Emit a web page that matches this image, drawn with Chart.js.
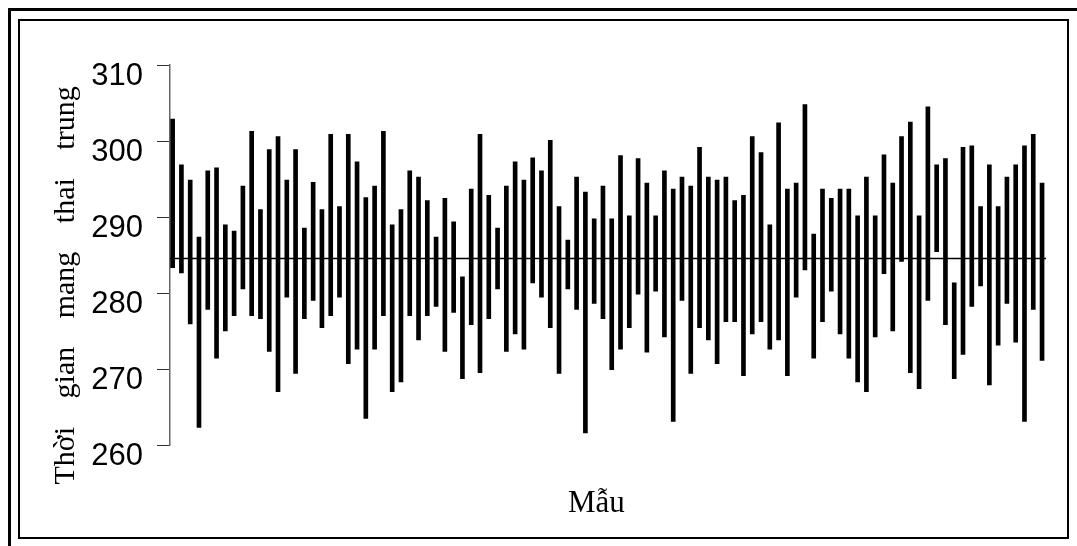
<!DOCTYPE html>
<html>
<head>
<meta charset="utf-8">
<script src="https://cdn.jsdelivr.net/npm/chart.js@4/dist/chart.umd.min.js"></script>
<style>
  body { margin: 0; background: #fff; }
  #wrap { position: relative; width: 1077px; height: 546px; overflow: hidden; }
  #outerFrame { position: absolute; left: 8px; top: 8px; width: 1200px; height: 700px; border: 3px solid #000; pointer-events: none; }
  #innerFrame { position: absolute; left: 18px; top: 19px; width: 1051px; height: 520px; box-sizing: border-box; border: 2px solid #000; pointer-events: none; }
</style>
</head>
<body>
<div id="wrap">
  <canvas id="chart"></canvas>
  <div id="outerFrame"></div>
  <div id="innerFrame"></div>
</div>
<script>
// sample numbers
let samples = [];
for (let i = 1; i <= 100; i++) samples.push(i);

// low / high of each sample
let lows = [
  283.4, 282.7, 276.0, 262.4, 277.9, 271.5, 275.1, 277.1, 280.6, 277.1,
  276.7, 272.4, 267.1, 279.5, 269.5, 276.7, 279.1, 275.5, 277.1, 279.5,
  270.8, 272.7, 263.6, 272.7, 277.1, 267.1, 268.4, 277.1, 273.9, 277.1,
  278.3, 272.4, 277.5, 268.8, 275.9, 269.6, 276.7, 280.6, 272.4, 274.7,
  272.7, 281.4, 279.5, 275.5, 269.5, 280.6, 277.9, 261.7, 278.7, 276.7,
  270.0, 272.7, 275.5, 279.9, 272.3, 280.3, 274.3, 263.2, 279.1, 269.5,
  275.5, 273.9, 270.8, 276.3, 276.3, 269.2, 274.7, 276.3, 272.7, 273.9,
  269.2, 279.5, 283.1, 271.5, 276.3, 280.3, 274.7, 271.5, 268.4, 267.1,
  274.3, 282.6, 275.1, 284.2, 269.6, 267.5, 279.1, 285.5, 275.9, 268.8,
  272.0, 278.3, 281.0, 268.0, 273.2, 278.7, 273.6, 263.2, 277.9, 271.2
];
let highs = [
  302.9, 296.9, 294.9, 287.4, 296.1, 296.5, 289.0, 288.2, 294.1, 301.3,
  291.0, 298.9, 300.6, 294.9, 298.9, 288.6, 294.6, 291.0, 300.9, 291.4,
  300.9, 297.3, 292.6, 294.1, 301.3, 289.0, 291.0, 296.1, 295.3, 292.2,
  287.4, 292.5, 289.4, 282.2, 293.7, 300.9, 292.9, 288.6, 294.1, 297.3,
  294.9, 297.8, 296.1, 300.1, 291.4, 287.0, 295.3, 293.3, 289.8, 294.1,
  289.8, 298.1, 290.2, 297.7, 294.5, 290.2, 296.1, 293.7, 295.3, 294.1,
  299.2, 295.3, 294.9, 295.3, 292.2, 292.9, 300.6, 298.5, 289.0, 302.4,
  293.7, 294.5, 304.8, 287.8, 293.7, 292.5, 293.7, 293.7, 290.2, 295.3,
  290.2, 298.2, 294.5, 300.6, 302.5, 290.2, 304.5, 296.9, 297.7, 281.4,
  299.2, 299.4, 291.4, 296.9, 291.4, 295.3, 296.9, 299.4, 300.9, 294.5
];

let centerLine = 284.6;
let yTicks = [260, 270, 280, 290, 300, 310];

let ranges = lows.map((lo, i) => [lo, highs[i]]);

const centerLinePlugin = {
  id: "centerLine",
  afterDatasetsDraw(chart) {
    const ctx = chart.ctx;
    const area = chart.chartArea;
    const y = chart.scales.y.getPixelForValue(centerLine);
    ctx.save();
    ctx.strokeStyle = "#000";
    ctx.lineWidth = 1.5;
    ctx.beginPath();
    ctx.moveTo(area.left, y);
    ctx.lineTo(area.right, y);
    ctx.stroke();
    ctx.restore();
  },
};

const sp = "\u00a0";
const gap = sp.repeat(3) + "\u2009";
const yTitle = ["Thời", "gian", "mang", "thai", "trung"].join(gap) + sp.repeat(8);
const xTitle = "Mẫu" + sp.repeat(3);

new Chart(document.getElementById("chart"), {
  type: "bar",
  data: {
    labels: samples,
    datasets: [
      {
        data: ranges,
        backgroundColor: "#000",
        borderWidth: 0,
        barThickness: 4,
      },
    ],
  },
  options: {
    responsive: true,
    maintainAspectRatio: false,
    animation: false,
    events: [],
    layout: { padding: { left: 20, top: 65, right: 31, bottom: 10 } },
    plugins: { legend: { display: false }, tooltip: { enabled: false } },
    scales: {
      x: {
        type: "linear",
        offset: false,
        min: 0.7,
        max: 100.45,
        grid: { display: false, drawTicks: false },
        border: { display: false },
        ticks: { display: false },
        title: {
          display: true,
          text: xTitle,
          color: "#000",
          font: { family: "'Liberation Serif', 'Times New Roman', serif", size: 31 },
          padding: { top: 39, bottom: 14 },
        },
      },
      y: {
        min: 260,
        max: 310,
        afterBuildTicks: (scale) => {
          scale.ticks = yTicks.map((v) => ({ value: v }));
        },
        afterFit: (scale) => {
          scale.width = 150;
        },
        grid: { drawOnChartArea: false, drawTicks: true, tickLength: 13, color: "#333", lineWidth: 1 },
        border: { display: true, color: "#666", width: 1.5 },
        ticks: {
          color: "#000",
          padding: 14,
          labelOffset: 11,
          font: { family: "'Liberation Sans', Arial, sans-serif", size: 31 },
        },
        title: {
          display: true,
          text: yTitle,
          color: "#000",
          font: { family: "'Liberation Serif', 'Times New Roman', serif", size: 30 },
          padding: { top: 28, bottom: 0 },
        },
      },
    },
  },
  plugins: [centerLinePlugin],
});
</script>
</body>
</html>
